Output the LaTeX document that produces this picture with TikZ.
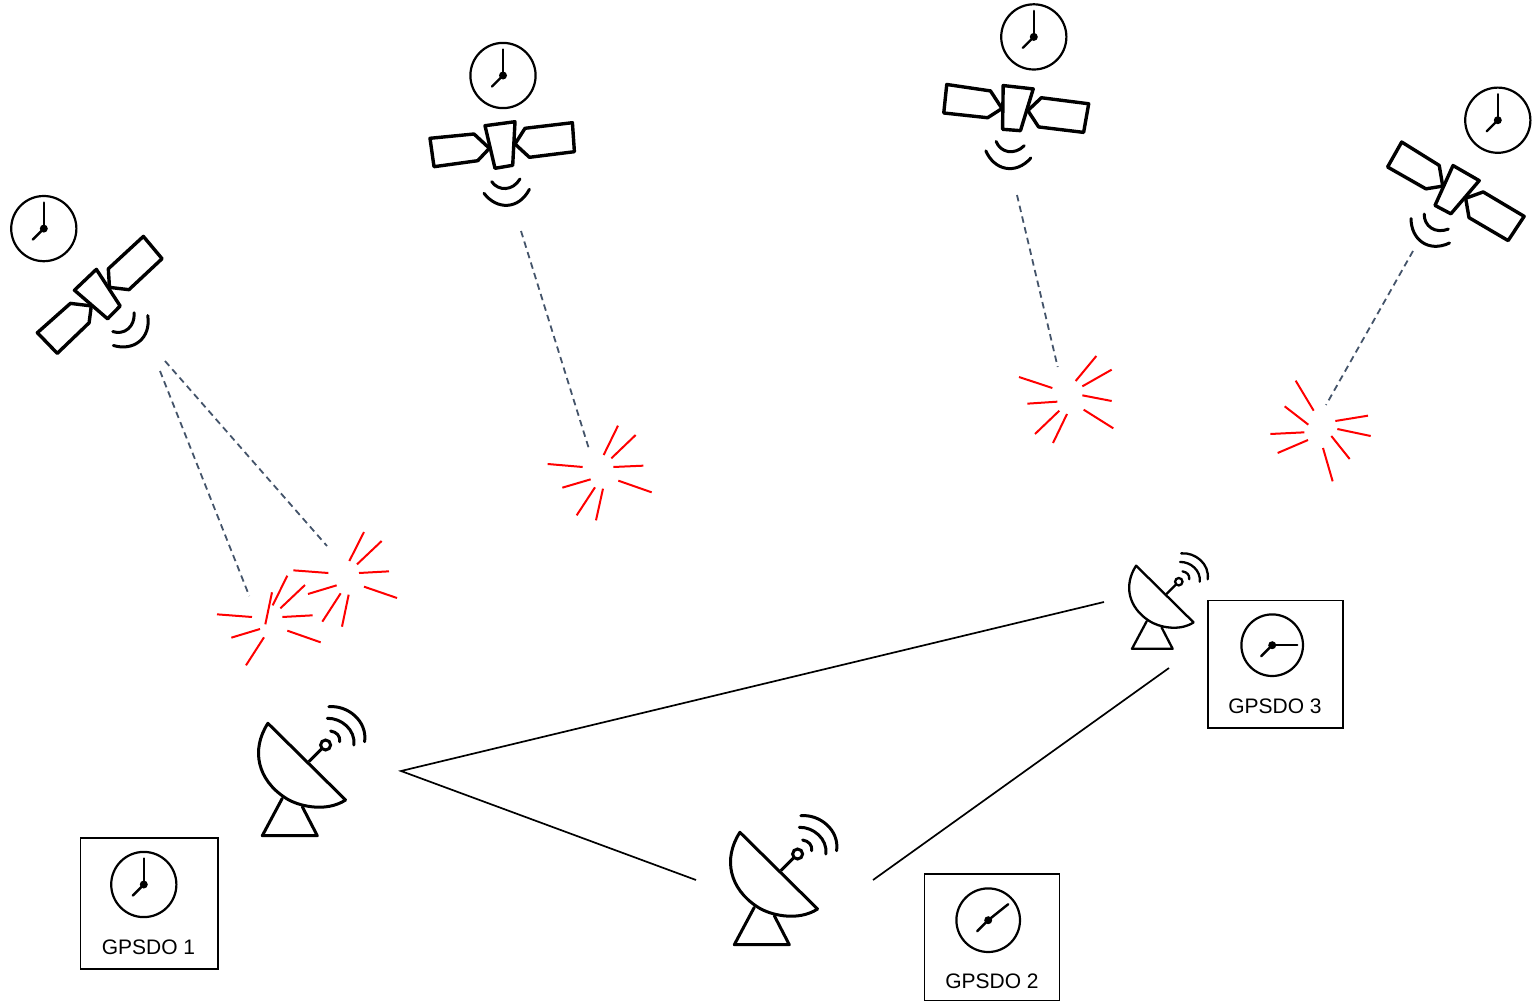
\documentclass[tikz,border=0pt]{standalone}
\usepackage{fontspec}
\setmainfont{Liberation Sans}
\definecolor{dashcol}{HTML}{44546A}
\tikzset{
  satline/.style={line width=3.4pt,line join=round,line cap=round,black},
  waveline/.style={line width=3pt,line cap=round,black},
  linkline/.style={line width=1.7pt,black},
  dashline/.style={line width=1.8pt,dashcol,dash pattern=on 6.5pt off 4.5pt},
  sparkline/.style={line width=2pt,red},
  gpsbox/.style={draw=black,line width=1.7pt,inner sep=0pt,anchor=north west},
  gpslabel/.style={font=\fontsize{21}{25}\selectfont,inner sep=0pt,text=black},
  pics/sat/.style={code={
    \draw[satline] (-16.7,-19.3)--(13.3,-23.3)--(11,20.3)--(-6.7,23.3)--cycle;
    \draw[satline] (-12.3,3.3)--(-27.7,-11)--(-71.7,-6.7)--(-67.7,21.7)--(-24,15.7)--cycle;
    \draw[satline] (13.3,-1)--(23.3,-16.7)--(70.7,-22.3)--(72.7,6.7)--(27.7,12.3)--cycle;
    \draw[waveline] (-10,36.7) .. controls (-3,46.5) and (11,46) .. (18.3,34);
    \draw[waveline] (-17.7,48.3) .. controls (-5,65) and (17,65) .. (27.7,44.3);
  }},
  pics/antenna/.style={code={
    \draw[line join=round,line cap=round] (20,55)--(-57.7,-21.7)
      .. controls (-75,5) and (-68,35) .. (-40,53)
      .. controls (-28,61) and (0,68) .. (20,55);
    \draw[line join=round,line cap=round] (-43.3,53.3)--(-63.3,90.7)--(-8.3,90.7)--(-23.3,61.7);
    \draw (0,0) circle[radius=5];
    \draw (-3.6,3.6)--(-16.7,16.7);
    \draw[line cap=round] (5,-14) .. controls (11,-13) and (15,-9) .. (14,-3.3);
    \draw[line cap=round] (1.7,-26.7) .. controls (16,-27) and (30,-15) .. (28.3,0);
    \draw[line cap=round] (3.3,-38.3) .. controls (22,-40) and (42,-24) .. (39,-3.3);
  }},
  pics/clock/.style n args={3}{code={
    \draw[line width=2.2pt] (0,0) circle[radius=#1];
    \fill (0,0) circle[radius=4];
    \draw[line width=2.4pt,line cap=round] (0,0)--(#2,#3);
    \draw[line width=2.4pt,line cap=round] (0,0)--(-11,11);
  }},
}
\newcommand{\sparkburst}[3]{%
  \begin{scope}[shift={(#1,#2)},scale=0.33333]
    \foreach \ax/\ay/\bx/\by in {#3}{\draw[sparkline] (\ax,\ay)--(\bx,\by);}
  \end{scope}}
\begin{document}
\begin{tikzpicture}[x=1pt,y=-1pt]
\useasboundingbox (0,0) rectangle (1535,1001);
% GPSDO boxes
\node[gpsbox,minimum width=137.7pt,minimum height=131pt] (box1) at (79.6,837.2) {};
\node[gpsbox,minimum width=135pt,minimum height=127pt] (box2) at (923.7,873.2) {};
\node[gpsbox,minimum width=134.6pt,minimum height=127.7pt] (box3) at (1207.4,599.7) {};
\node[gpslabel] (lab1) at (148.5,947) {GPSDO 1};
\node[gpslabel] (lab2) at (992,981) {GPSDO 2};
\node[gpslabel] (lab3) at (1275,706.5) {GPSDO 3};
% clocks
\pic at (43.8,228.6) {clock={32.6}{0}{-26}};
\pic at (503,75.5) {clock={32.6}{0}{-26}};
\pic at (1033.8,36.9) {clock={32.6}{0}{-26}};
\pic at (1497.8,120.2) {clock={32.6}{0}{-26}};
\pic at (143.8,884.5) {clock={32.6}{0}{-26}};
\pic at (988.2,920.2) {clock={31.8}{20}{-16}};
\pic at (1272.2,645.2) {clock={30.8}{25}{0}};
% satellites
\pic[rotate=36] at (99.3,296) {sat};
\pic at (501.7,145) {sat};
\pic[rotate=-14] at (1014.7,108.3) {sat};
\pic[rotate=-37.5] at (1454.5,191) {sat};
% antennas
\pic[line width=3pt] at (325.6,745) {antenna};
\pic[line width=3pt] at (797.6,854) {antenna};
\pic[scale=0.74,line width=2.3pt] at (1178.8,581.7) {antenna};
% link end points
\coordinate (hub) at (401,771);
\coordinate (toA3) at (1104,602);
\coordinate (toA2) at (696,880);
\coordinate (fromA2) at (873,880);
\coordinate (toA3b) at (1169,668);
\draw[linkline] (toA3)--(hub)--(toA2);
\draw[linkline] (fromA2)--(toA3b);
% signal paths
\coordinate (s1a) at (160,371); \coordinate (b1a) at (249.3,596);
\coordinate (s1b) at (165,361); \coordinate (b1b) at (327,546);
\coordinate (s2) at (521,231);  \coordinate (b2) at (589,449);
\coordinate (s3) at (1017,195); \coordinate (b3) at (1057.7,367);
\coordinate (s4) at (1413,251); \coordinate (b4) at (1326,405);
\draw[dashline] (s1a)--(b1a);
\draw[dashline] (s1b)--(b1b);
\draw[dashline] (s2)--(b2);
\draw[dashline] (s3)--(b3);
\draw[dashline] (s4)--(b4);
% bursts
\sparkburst{200}{520}{448/123/492/36,471/133/545/63,477/159/567/154,492/200/591/234,446/224/426/320,422/220/367/305,410/196/324/222,385/159/280/151}
\sparkburst{200}{520}{218/256/262/167,241/265/315/195,247/291/338/286,262/332/362/367,216/217/196/313,192/352/138/436,180/327/94/353,156/291/51/283}
\sparkburst{535}{415}{206/120/249/32,229/130/302/60,235/156/325/152,250/197/350/232,204/221/183/316,180/217/125/301,167/193/82/218,143/156/38/147}
\sparkburst{1005}{345}{212/108/274/33,232/124/320/74,232/151/320/168,236/194/325/250,186/207/144/294,163/197/90/267,157/170/67/176,142/129/42/96}
\sparkburst{1260}{375}{161/107/107/17,145/149/74/94,133/172/31/177,144/195/53/234,189/219/218/319,214/183/269/252,232/162/332/183,226/138/324/122}
\end{tikzpicture}
\end{document}
